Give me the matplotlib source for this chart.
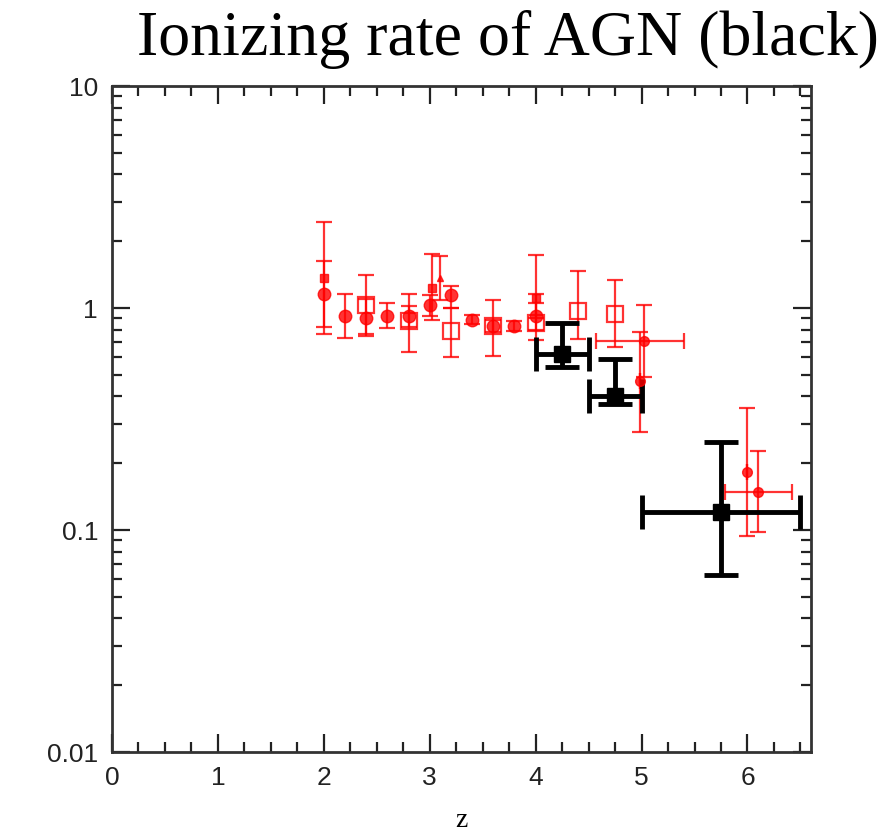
import numpy as np
import matplotlib
matplotlib.use('Agg')
import matplotlib.pyplot as plt
from matplotlib.ticker import MultipleLocator, FixedLocator, NullFormatter

# red filled circles (galaxy / total ionizing rate)
circ_z = [2.0, 2.2, 2.4, 2.6, 2.8, 3.0, 3.2, 3.4, 3.6, 3.8, 4.0]
circ_g = [1.16, 0.92, 0.90, 0.92, 0.92, 1.03, 1.14, 0.885, 0.83, 0.83, 0.92]
circ_lo = [0.82, 0.73, 0.76, 0.81, 0.82, 0.92, 1.00, 0.85, 0.78, 0.79, 0.80]
circ_hi = [1.63, 1.16, 1.10, 1.05, 1.02, 1.15, 1.25, 0.93, 0.88, 0.87, 1.05]

# red small filled squares
sq_z = [2.0, 3.02, 4.0]
sq_g = [1.36, 1.23, 1.11]
sq_lo = [0.76, 0.88, 0.90]
sq_hi = [2.43, 1.75, 1.73]

# red triangle
tri_z = [3.1]
tri_g = [1.36]
tri_lo = [1.09]
tri_hi = [1.72]

# red open squares
osq_z = [2.4, 2.8, 3.2, 3.6, 4.0, 4.4, 4.75]
osq_g = [1.03, 0.87, 0.79, 0.83, 0.86, 0.97, 0.94]
osq_lo = [0.745, 0.635, 0.60, 0.61, 0.72, 0.725, 0.665]
osq_hi = [1.41, 1.16, 1.00, 1.09, 1.16, 1.47, 1.34]

# red high-z points
hz_z = [5.02, 4.99, 6.0, 6.1]
hz_g = [0.71, 0.47, 0.183, 0.149]
hz_lo = [0.49, 0.275, 0.094, 0.098]
hz_hi = [1.03, 0.78, 0.355, 0.228]
hz_zlo = [4.57, 4.99, 6.0, 5.79]
hz_zhi = [5.40, 4.99, 6.0, 6.42]

# AGN (black)
agn_z = [4.25, 4.75, 5.75]
agn_g = [0.62, 0.40, 0.12]
agn_lo = [0.54, 0.37, 0.063]
agn_hi = [0.86, 0.59, 0.25]
agn_zlo = [4.0, 4.5, 5.0]
agn_zhi = [4.5, 5.0, 6.5]


def yerr(v, lo, hi):
    v = np.array(v)
    return [v - np.array(lo), np.array(hi) - v]


fig = plt.figure(figsize=(8.92, 8.40), dpi=100)
ax = fig.add_axes([112 / 892, (840 - 752) / 840, (811 - 112) / 892, (752 - 86) / 840])

red = '#ff0000'
ebkw = dict(ecolor=red, elinewidth=1.6, capsize=6, capthick=1.6, linestyle='none', alpha=0.8)

ax.errorbar(osq_z, osq_g, yerr=yerr(osq_g, osq_lo, osq_hi), marker='s', ms=11,
            mfc='none', mec=red, mew=1.6, **ebkw)
ax.errorbar(circ_z, circ_g, yerr=yerr(circ_g, circ_lo, circ_hi), marker='o', ms=9,
            mfc=red, mec=red, **ebkw)
ax.errorbar(sq_z, sq_g, yerr=yerr(sq_g, sq_lo, sq_hi), marker='s', ms=6,
            mfc=red, mec=red, **ebkw)
ax.errorbar(tri_z, tri_g, yerr=yerr(tri_g, tri_lo, tri_hi), marker='^', ms=5,
            mfc=red, mec=red, **ebkw)
ax.errorbar(hz_z, hz_g, yerr=yerr(hz_g, hz_lo, hz_hi),
            xerr=yerr(hz_z, hz_zlo, hz_zhi), marker='o', ms=7,
            mfc=red, mec=red, **ebkw)

ax.errorbar(agn_z, agn_g, yerr=yerr(agn_g, agn_lo, agn_hi),
            xerr=yerr(agn_z, agn_zlo, agn_zhi), marker='s', ms=12,
            mfc='black', mec='black', ecolor='black', elinewidth=3.5,
            capsize=12, capthick=3.5, linestyle='none')

ax.set_yscale('log')
ax.set_xlim(0, 6.6)
ax.set_ylim(0.01, 10)

ax.xaxis.set_major_locator(MultipleLocator(1))
ax.xaxis.set_minor_locator(MultipleLocator(0.25))
ax.yaxis.set_major_locator(FixedLocator([0.01, 0.1, 1, 10]))
minors = [m * 10.0 ** e for e in (-2, -1, 0) for m in range(2, 10)]
ax.yaxis.set_minor_locator(FixedLocator(minors))
ax.yaxis.set_minor_formatter(NullFormatter())
ax.set_yticklabels(['0.01', '0.1', '1', '10'])

ax.tick_params(which='both', direction='in', top=True, right=True, width=1.6,
               labelsize=19, pad=10, colors='#222222')
ax.tick_params(which='major', length=13)
ax.tick_params(which='minor', length=7)
for lab in ax.get_xticklabels() + ax.get_yticklabels():
    lab.set_fontfamily('Liberation Sans')
for s in ax.spines.values():
    s.set_linewidth(2)
    s.set_color('#333333')

ax.set_xlabel('z', fontsize=20, family='Liberation Serif', labelpad=13)

fig.text(0.569, 0.988, 'Ionizing rate of AGN (black)', ha='center', va='top',
         fontsize=46, family='Liberation Serif')

plt.savefig('out.png', dpi=100)
